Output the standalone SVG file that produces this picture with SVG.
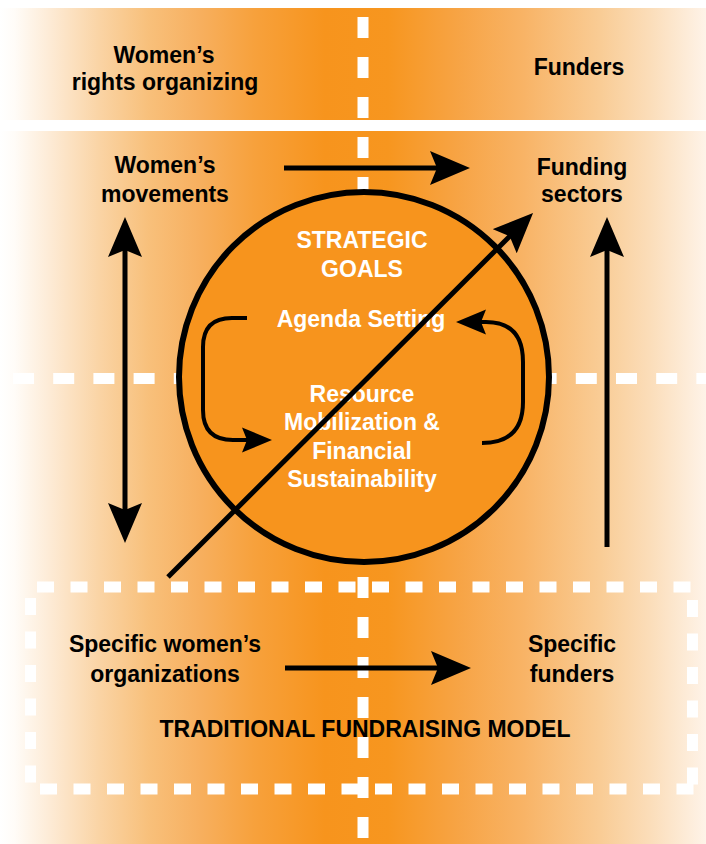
<svg xmlns="http://www.w3.org/2000/svg" width="706" height="844" viewBox="0 0 706 844">
  <defs>
    <linearGradient id="bg" x1="0" y1="0" x2="706" y2="0" gradientUnits="userSpaceOnUse">
      <stop offset="0" stop-color="#FFFFFF"/>
      <stop offset="0.02" stop-color="#FFFCF8"/>
      <stop offset="0.07" stop-color="#FDEBD6"/>
      <stop offset="0.14" stop-color="#FAD4A5"/>
      <stop offset="0.21" stop-color="#F8C07B"/>
      <stop offset="0.28" stop-color="#F7B060"/>
      <stop offset="0.36" stop-color="#F7A13C"/>
      <stop offset="0.46" stop-color="#F7941D"/>
      <stop offset="0.55" stop-color="#F7961F"/>
      <stop offset="0.65" stop-color="#F7A445"/>
      <stop offset="0.74" stop-color="#F8B365"/>
      <stop offset="0.85" stop-color="#F9CC95"/>
      <stop offset="0.92" stop-color="#FBDDB9"/>
      <stop offset="1" stop-color="#FEF3E8"/>
    </linearGradient>
    <marker id="big" markerUnits="userSpaceOnUse" viewBox="-10 -17 40 34" markerWidth="40" markerHeight="34" refX="0" refY="0" orient="auto-start-reverse">
      <path d="M30,0 L-10,-17 L-3,0 L-10,17 Z" fill="#000"/>
    </marker>
    <marker id="small" markerUnits="userSpaceOnUse" viewBox="-8 -13 30 26" markerWidth="30" markerHeight="26" refX="0" refY="0" orient="auto">
      <path d="M22,0 L-8,-12.5 L-3,0 L-8,12.5 Z" fill="#000"/>
    </marker>
    <style>
      .lbl { font-family: "Liberation Sans", Arial, sans-serif; font-weight: bold; font-size: 23px; fill: #000; text-anchor: middle; }
      .wlbl { font-family: "Liberation Sans", Arial, sans-serif; font-weight: bold; font-size: 23px; fill: #FFFFFF; text-anchor: middle; }
      .arrow { stroke: #000; stroke-width: 5; fill: none; }
      .loop { stroke: #000; stroke-width: 4; fill: none; }
      .dashv { stroke: #FFFFFF; stroke-width: 11; stroke-dasharray: 21 19; fill: none; }
      .dashh { stroke: #FFFFFF; stroke-width: 11; stroke-dasharray: 21 19.2; fill: none; }
      .dot { stroke: #FFFFFF; stroke-width: 11; stroke-dasharray: 17 16.5; fill: none; }
    </style>
  </defs>

  <!-- background bands -->
  <rect x="0" y="0" width="706" height="844" fill="#FFFFFF"/>
  <rect x="0" y="8" width="706" height="112" fill="url(#bg)"/>
  <rect x="0" y="131" width="706" height="713" fill="url(#bg)"/>

  <!-- dashed guide lines -->
  <g id="guides">
    <line class="dashv" x1="363" y1="17" x2="363" y2="844"/>
    <line class="dashh" x1="13" y1="378.5" x2="706" y2="378.5"/>
  </g>

  <!-- traditional fundraising model frame -->
  <g id="frame">
    <line class="dot" x1="37" y1="587" x2="691" y2="587"/>
    <line class="dot" x1="30.5" y1="598" x2="30.5" y2="783"/>
    <line class="dot" x1="40" y1="789" x2="694" y2="789"/>
    <line class="dot" x1="692.5" y1="600" x2="692.5" y2="785"/>
  </g>

  <!-- strategic goals circle -->
  <g id="strategic-goals">
    <circle cx="364" cy="377" r="185" fill="#F7941D" stroke="#000" stroke-width="6"/>
    <text class="wlbl" x="362" y="248">STRATEGIC</text>
    <text class="wlbl" x="362" y="277">GOALS</text>
  </g>
  <g id="agenda-setting">
    <text class="wlbl" x="361" y="327">Agenda Setting</text>
  </g>
  <g id="resource-mobilization">
    <text class="wlbl" x="362" y="402">Resource</text>
    <text class="wlbl" x="362" y="430">Mobilization &amp;</text>
    <text class="wlbl" x="362" y="459">Financial</text>
    <text class="wlbl" x="362" y="487">Sustainability</text>
  </g>

  <!-- labels -->
  <g id="womens-rights-organizing">
    <text class="lbl" x="164" y="63">Women’s</text>
    <text class="lbl" x="165" y="90">rights organizing</text>
  </g>
  <g id="funders">
    <text class="lbl" x="579" y="75">Funders</text>
  </g>
  <g id="womens-movements">
    <text class="lbl" x="165" y="173">Women’s</text>
    <text class="lbl" x="165" y="202">movements</text>
  </g>
  <g id="funding-sectors">
    <text class="lbl" x="582" y="175">Funding</text>
    <text class="lbl" x="582" y="202">sectors</text>
  </g>
  <g id="specific-womens-organizations">
    <text class="lbl" x="165" y="652">Specific women’s</text>
    <text class="lbl" x="165" y="682">organizations</text>
  </g>
  <g id="specific-funders">
    <text class="lbl" x="572" y="652">Specific</text>
    <text class="lbl" x="572" y="682">funders</text>
  </g>
  <g id="traditional-model">
    <text class="lbl" x="365" y="737">TRADITIONAL FUNDRAISING MODEL</text>
  </g>

  <!-- connectors -->
  <g id="connectors">
    <line class="arrow" x1="284" y1="168" x2="440" y2="168" marker-end="url(#big)"/>
    <line class="arrow" x1="125" y1="247" x2="125" y2="513" marker-start="url(#big)" marker-end="url(#big)"/>
    <line class="arrow" x1="607" y1="547" x2="607" y2="247" marker-end="url(#big)"/>
    <line class="arrow" x1="168" y1="577" x2="511.8" y2="234.2" stroke-width="4" marker-end="url(#big)"/>
    <line class="arrow" x1="285" y1="668" x2="441" y2="668" marker-end="url(#big)"/>
    <path class="loop" d="M247,318 L232,318 Q203,318 203,347 L203,410 Q203,440 233,440 L250,440" marker-end="url(#small)"/>
    <path class="loop" d="M482,443 Q523,443 523,402 L523,362 Q523,322 486,322 L478,322" marker-end="url(#small)"/>
  </g>
</svg>
